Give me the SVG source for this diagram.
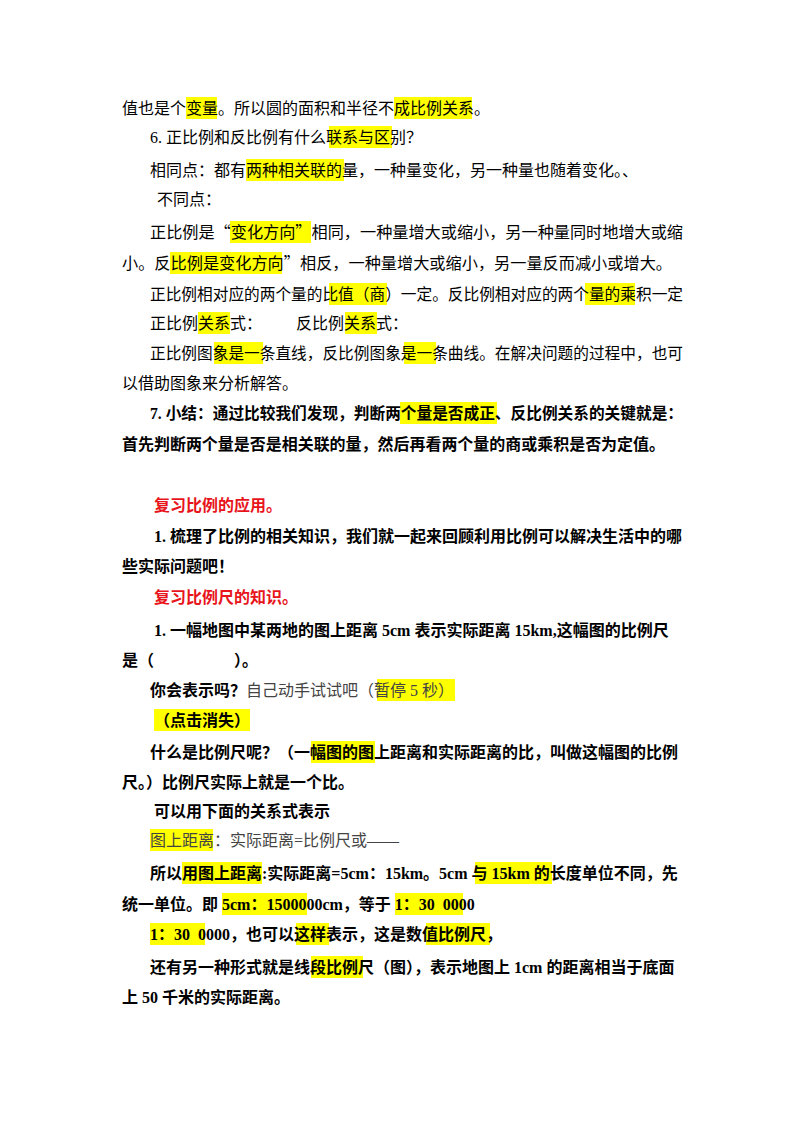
<svg xmlns="http://www.w3.org/2000/svg" width="800" height="1132" viewBox="0 0 800 1132">
<style>
text{font-family:"Liberation Serif","Noto Sans CJK SC",serif;font-size:16px;fill:#000;white-space:pre}
.b{font-weight:bold}
.g{fill:#444}
.r{fill:#e8141b;font-weight:bold}
.h{fill:#ffff00}
.q{font-family:"Noto Sans CJK SC",sans-serif}
</style>
<rect width="800" height="1132" fill="#fff"/>
<g id="highlights">
<rect class="h" x="186" y="97" width="31" height="22"/>
<rect class="h" x="394" y="97" width="78" height="22"/>
<rect class="h" x="329" y="126" width="63" height="22"/>
<rect class="h" x="246" y="159" width="98" height="22"/>
<rect class="h" x="230" y="221" width="81" height="22"/>
<rect class="h" x="170" y="252" width="112" height="22"/>
<rect class="h" x="329" y="283" width="58" height="22"/>
<rect class="h" x="585" y="283" width="50" height="22"/>
<rect class="h" x="198" y="312" width="32" height="22"/>
<rect class="h" x="345" y="312" width="32" height="22"/>
<rect class="h" x="214" y="342" width="49" height="22"/>
<rect class="h" x="404" y="342" width="32" height="22"/>
<rect class="h" x="400" y="402" width="97" height="22"/>
<rect class="h" x="377" y="679" width="78" height="22"/>
<rect class="h" x="154" y="709" width="96" height="22"/>
<rect class="h" x="311" y="741" width="64" height="22"/>
<rect class="h" x="150" y="829" width="63" height="22"/>
<rect class="h" x="182" y="862" width="80" height="22"/>
<rect class="h" x="475" y="862" width="77" height="22"/>
<rect class="h" x="222" y="893" width="85" height="22"/>
<rect class="h" x="395" y="893" width="68" height="22"/>
<rect class="h" x="150" y="923" width="55" height="22"/>
<rect class="h" x="296" y="923" width="33" height="22"/>
<rect class="h" x="426" y="923" width="64" height="22"/>
<rect class="h" x="311" y="956" width="52" height="22"/>
</g>
<g id="text">
<text x="122" y="114">值也是个变量。所以圆的面积和半径不成比例关系。</text>
<text x="150" y="143">6. 正比例和反比例有什么联系与区别？</text>
<text x="150" y="176">相同点：都有两种相关联的量，一种量变化，另一种量也随着变化。、</text>
<text x="157" y="205">不同点：</text>
<text x="150" y="238" textLength="533" lengthAdjust="spacingAndGlyphs">正比例是<tspan class="q">“</tspan>变化方向<tspan class="q">”</tspan>相同，一种量增大或缩小，另一种量同时地增大或缩</text>
<text x="122" y="269" textLength="550" lengthAdjust="spacingAndGlyphs">小。反比例是变化方向<tspan class="q">”</tspan>相反，一种量增大或缩小，另一量反而减小或增大。</text>
<text x="150" y="300" textLength="533" lengthAdjust="spacingAndGlyphs">正比例相对应的两个量的比值（商）一定。反比例相对应的两个量的乘积一定</text>
<text x="150" y="329">正比例关系式：</text>
<text x="296" y="329">反比例关系式：</text>
<text x="150" y="359" textLength="533" lengthAdjust="spacingAndGlyphs">正比例图象是一条直线，反比例图象是一条曲线。在解决问题的过程中，也可</text>
<text x="122" y="389">以借助图象来分析解答。</text>
<text class="b" x="150" y="419" textLength="533" lengthAdjust="spacingAndGlyphs">7. 小结：通过比较我们发现，判断两个量是否成正、反比例关系的关键就是：</text>
<text class="b" x="122" y="450" textLength="543" lengthAdjust="spacingAndGlyphs">首先判断两个量是否是相关联的量，然后再看两个量的商或乘积是否为定值。</text>
<text class="r" x="154" y="511">复习比例的应用。</text>
<text class="b" x="154" y="542">1. 梳理了比例的相关知识，我们就一起来回顾利用比例可以解决生活中的哪</text>
<text class="b" x="122" y="572">些实际问题吧！</text>
<text class="r" x="154" y="603">复习比例尺的知识。</text>
<text class="b" x="154" y="636">1. 一幅地图中某两地的图上距离 5cm 表示实际距离 15km,这幅图的比例尺</text>
<text class="b" x="122" y="666">是（　　　　　）。</text>
<text x="150" y="696"><tspan class="b">你会表示吗？</tspan><tspan class="g">自己动手试试吧（暂停 5 秒）</tspan></text>
<text class="b" x="154" y="726">（点击消失）</text>
<text class="b" x="150" y="758">什么是比例尺呢？（一幅图的图上距离和实际距离的比，叫做这幅图的比例</text>
<text class="b" x="122" y="788">尺。）比例尺实际上就是一个比。</text>
<text class="b" x="154" y="817">可以用下面的关系式表示</text>
<text class="g" x="150" y="846">图上距离：实际距离=比例尺或——</text>
<text class="b" x="150" y="879">所以用图上距离:实际距离=5cm：15km。5cm 与 15km 的长度单位不同，先</text>
<text class="b" x="122" y="910">统一单位。即 5cm：1500000cm，等于 1：30  0000</text>
<text class="b" x="150" y="940">1：30  0000，也可以这样表示，这是数值比例尺，</text>
<text class="b" x="150" y="973">还有另一种形式就是线段比例尺（图），表示地图上 1cm 的距离相当于底面</text>
<text class="b" x="122" y="1003">上 50 千米的实际距离。</text>
</g>
</svg>
